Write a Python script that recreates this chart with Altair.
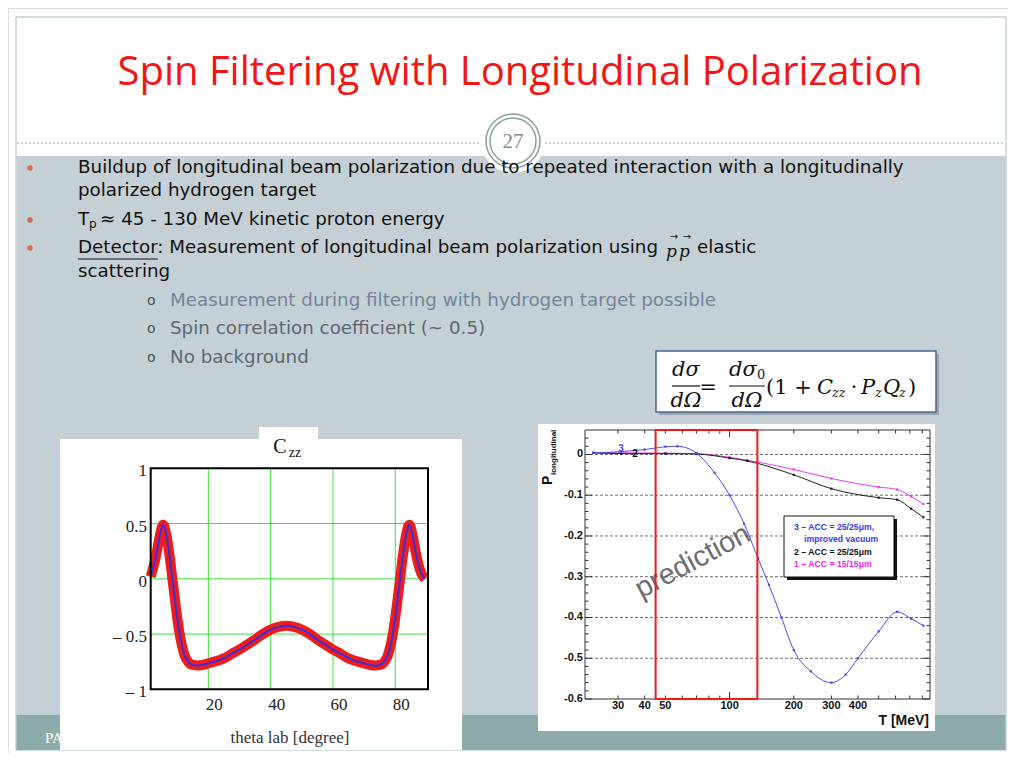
import altair as alt
import pandas as pd

OFF = 8  # page margin

# ---------------- slide texts ----------------
TITLE = "Spin Filtering with Longitudinal Polarization"
BULLET1 = ["Buildup of longitudinal beam polarization due to repeated interaction with a longitudinally",
           "polarized hydrogen target"]
BULLET2 = ["T", "p", "\u2248 45 - 130 MeV kinetic proton energy"]
BULLET3 = ["Detector", ": Measurement of longitudinal beam polarization using", "p", "\u2192", "elastic", "scattering"]
SUBBULLETS = ["Measurement during filtering with hydrogen target possible",
              "Spin correlation coefficient (~ 0.5)",
              "No background"]

# ---------------- left panel: C_zz vs theta lab ----------------
theta_lab = [1.5, 2.5, 3.5, 4.5, 5.5, 6.5, 7.5, 8.5, 9.5, 10.5, 11.5, 12.5, 13.5, 15, 16.5, 18, 20,
             22.5, 25, 27.5, 30, 32.5, 35, 37.5, 40, 42.5, 45, 47.5, 50, 52.5, 55, 57.5, 60, 62.5,
             65, 67.5, 70, 72, 73.5, 75, 76.5, 77.5, 78.5, 79.5, 80.5, 81.5, 82.5, 83.5, 84.5,
             85.5, 86.5, 87.5, 88.5, 89.5]
czz = [0.02, 0.12, 0.25, 0.40, 0.49, 0.40, 0.22, -0.01, -0.24, -0.45, -0.60, -0.70, -0.75, -0.78,
       -0.785, -0.78, -0.765, -0.745, -0.72, -0.68, -0.64, -0.595, -0.55, -0.50, -0.46, -0.435,
       -0.425, -0.435, -0.46, -0.50, -0.55, -0.595, -0.64, -0.68, -0.72, -0.745, -0.765, -0.78,
       -0.785, -0.78, -0.75, -0.70, -0.60, -0.45, -0.24, -0.01, 0.22, 0.40, 0.49, 0.40, 0.25,
       0.12, 0.04, 0.00]
left_xgrid = [20, 40, 60, 80]
left_ygrid = [0.5, 0, -0.5]
left_yticks = [1, 0.5, 0, -0.5, -1]
left_ylabels = ["1", "0.5", "0", "\u2013 0.5", "\u2013 1"]
left_xticks = [20, 40, 60, 80]
left_xlabels = ["20", "40", "60", "80"]

# ---------------- right panel: P_longitudinal vs T ----------------
t_acc3 = [23, 31, 40, 50, 57, 70, 85, 100, 117, 136, 153, 175, 200, 240, 300, 350, 400, 500, 610, 710, 810]
p_acc3 = [0.004, 0.007, 0.012, 0.019, 0.020, 0.003, -0.045, -0.10, -0.17, -0.255, -0.32, -0.40,
          -0.48, -0.532, -0.56, -0.54, -0.50, -0.434, -0.386, -0.403, -0.42]
t_acc2 = [23, 31, 50, 70, 100, 121, 200, 300, 500, 610, 710, 810]
p_acc2 = [0.004, 0.002, 0.002, 0.001, -0.009, -0.016, -0.05, -0.084, -0.106, -0.111, -0.133, -0.154]
t_acc1 = [23, 31, 50, 70, 100, 121, 200, 300, 500, 610, 710, 810]
p_acc1 = [0.004, 0.004, 0.003, 0.002, -0.007, -0.014, -0.037, -0.059, -0.080, -0.086, -0.103, -0.122]
window_t = [45, 135]          # T_p window (red box)
right_ygrid = [0, -0.1, -0.2, -0.3, -0.4, -0.5]
right_ymajor = [0.0, -0.1, -0.2, -0.3, -0.4, -0.5, -0.6]
right_yminor = [0.04, 0.02, -0.02, -0.04, -0.06, -0.08, -0.12, -0.14, -0.16, -0.18, -0.22, -0.24,
                -0.26, -0.28, -0.32, -0.34, -0.36, -0.38, -0.42, -0.44, -0.46, -0.48, -0.52,
                -0.54, -0.56, -0.58]
right_ylabels = ["0", "-0.1", "-0.2", "-0.3", "-0.4", "-0.5", "-0.6"]
right_xmajor = [100]
right_xminor = [30, 40, 50, 60, 70, 80, 90, 200, 300, 400, 500, 600, 700, 800]
right_xticks = [30, 40, 50, 100, 200, 300, 400]
right_xlabels = ["30", "40", "50", "100", "200", "300", "400"]
legend_lines = ["3 \u2013 ACC = 25/25\u03bcm,", "improved vacuum", "2 \u2013 ACC = 25/25\u03bcm", "1 \u2013 ACC = 15/15\u03bcm"]

# ---------------- helpers ----------------
one = pd.DataFrame({"k": [0]})


def rect(x1, y1, x2, y2, **kw):
    return alt.Chart(one).mark_rect(**kw).encode(
        x=alt.value(x1 - OFF), x2=alt.value(x2 - OFF),
        y=alt.value(y1 - OFF), y2=alt.value(y2 - OFF))


def rule(x1, y1, x2, y2, **kw):
    return alt.Chart(one).mark_rule(**kw).encode(
        x=alt.value(x1 - OFF), x2=alt.value(x2 - OFF),
        y=alt.value(y1 - OFF), y2=alt.value(y2 - OFF))


def txt(x, y, s, **kw):
    kw.setdefault("baseline", "middle")
    kw.setdefault("align", "left")
    return alt.Chart(one).mark_text(text=s, **kw).encode(
        x=alt.value(x - OFF), y=alt.value(y - OFF))


def dot(x, y, **kw):
    return alt.Chart(one).mark_point(**kw).encode(x=alt.value(x - OFF), y=alt.value(y - OFF))


TITLEFONT = "Open Sans"
BODY = "DejaVu Sans"
FS = 18.3
layers = []

# ---------------- slide background ----------------
layers += [
    rect(16, 17, 1006, 750, fill="white", stroke="#a7bbbf", strokeWidth=1),
    rect(16.5, 156, 1005.5, 715, fill="#c5d0d6"),
    rect(16.5, 715, 1005.5, 750, fill="#8eabab"),
    rule(17, 143, 1005, 143, color="#a5a5a5", strokeDash=[2, 2], strokeWidth=1),
    dot(513, 141, shape="circle", size=4096, filled=True, color="white", opacity=1),
    dot(513, 141, shape="circle", size=2916, filled=False, color="#8a9fa3", strokeWidth=1.5, opacity=1),
    dot(513, 141, shape="circle", size=2116, filled=False, color="#8a9fa3", strokeWidth=1.5, opacity=1),
    txt(513, 142, "27", font="Liberation Serif", fontSize=21, color="#7b9094", align="center"),
    txt(520, 73, TITLE, font=TITLEFONT, fontSize=40, color="#f31515", align="center"),
]

# bullets
for yy in (168, 220, 248):
    layers.append(dot(30, yy, shape="circle", size=30, filled=True, color="#d4694d", opacity=1))
layers += [
    txt(78, 168, BULLET1[0], font=BODY, fontSize=FS, color="#111111"),
    txt(78, 191, BULLET1[1], font=BODY, fontSize=FS, color="#111111"),
    txt(78, 220, BULLET2[0], font=BODY, fontSize=FS, color="#111111"),
    txt(89, 224, BULLET2[1], font=BODY, fontSize=12, color="#111111"),
    txt(100, 220, BULLET2[2], font=BODY, fontSize=FS, color="#111111"),
    txt(78, 248, BULLET3[0] + BULLET3[1], font=BODY, fontSize=FS, color="#111111"),
    rule(78, 259, 158, 259, color="#111111", strokeWidth=1),
    txt(666, 252, BULLET3[2], font="DejaVu Serif", fontSize=17, fontStyle="italic", color="#111111"),
    txt(679, 252, BULLET3[2], font="DejaVu Serif", fontSize=17, fontStyle="italic", color="#111111"),
    txt(674, 236.5, BULLET3[3], font="DejaVu Sans", fontSize=10, color="#111111", align="center"),
    txt(687, 236.5, BULLET3[3], font="DejaVu Sans", fontSize=10, color="#111111", align="center"),
    txt(697, 248, BULLET3[4], font=BODY, fontSize=FS, color="#111111"),
    txt(78, 272, BULLET3[5], font=BODY, fontSize=FS, color="#111111"),
]
sub_y = [301, 329, 358]
sub_col = ["#74849a", "#5d6873", "#5d6873"]
for s, yy, cc in zip(SUBBULLETS, sub_y, sub_col):
    layers.append(txt(147, yy, "o", font=BODY, fontSize=14, color="#4a4f55"))
    layers.append(txt(170, yy, s, font=BODY, fontSize=FS, color=cc))

# ---------------- formula box ----------------
SER = "DejaVu Serif"
FF = 21
layers += [
    rect(659, 354, 939, 415, fill="#7d8b93", opacity=0.6),
    rect(656, 351, 936, 412, fill="white", stroke="#45688a", strokeWidth=1.5),
    txt(686, 370, "d\u03c3", font=SER, fontSize=FF, fontStyle="italic", align="center", color="#111"),
    rule(672, 386, 700, 386, color="#111", strokeWidth=1.2),
    txt(686, 401, "d\u03a9", font=SER, fontSize=FF, fontStyle="italic", align="center", color="#111"),
    txt(708, 388, "=", font=SER, fontSize=FF, align="center", color="#111"),
    txt(743, 370, "d\u03c3", font=SER, fontSize=FF, fontStyle="italic", align="center", color="#111"),
    txt(757, 375, "0", font=SER, fontSize=13, align="left", color="#111"),
    rule(729, 386, 765, 386, color="#111", strokeWidth=1.2),
    txt(747, 401, "d\u03a9", font=SER, fontSize=FF, fontStyle="italic", align="center", color="#111"),
    txt(766, 388, "(1 +", font=SER, fontSize=FF, color="#111"),
    txt(817, 388, "C", font=SER, fontSize=FF, fontStyle="italic", color="#111"),
    txt(832, 393, "zz", font=SER, fontSize=13, fontStyle="italic", color="#111"),
    txt(854, 388, "\u00b7", font=SER, fontSize=FF, color="#111", align="center"),
    txt(861, 388, "P", font=SER, fontSize=FF, fontStyle="italic", color="#111"),
    txt(875, 393, "z", font=SER, fontSize=13, fontStyle="italic", color="#111"),
    txt(883, 388, "Q", font=SER, fontSize=FF, fontStyle="italic", color="#111"),
    txt(899, 393, "z", font=SER, fontSize=13, fontStyle="italic", color="#111"),
    txt(908, 388, ")", font=SER, fontSize=FF, color="#111"),
]

# ---------------- panels ----------------
TS = "Liberation Serif"
layers += [
    txt(45, 738, "PAX", font=TS, fontSize=15, color="white"),
    rect(60, 439, 462, 750, fill="white"),
    rect(259, 427, 318, 440, fill="white"),
    rect(538, 424, 935, 731, fill="white"),
]

# ---------------- left chart ----------------
LX = alt.Scale(domain=[1.5, 90.5], range=[150.7 - OFF, 428 - OFF], nice=False, zero=False)
LY = alt.Scale(domain=[-1, 1], range=[689.3 - OFF, 468.3 - OFF], nice=False, zero=False)
ldf = pd.DataFrame({"theta": theta_lab, "czz": czz})

layers += [
    alt.Chart(pd.DataFrame({"v": left_xgrid})).mark_rule(color="#3ee03e", strokeWidth=1).encode(
        x=alt.X("v:Q", scale=LX, axis=None), y=alt.value(468.3 - OFF), y2=alt.value(689.3 - OFF)),
    alt.Chart(pd.DataFrame({"v": left_ygrid})).mark_rule(color="#3ee03e", strokeWidth=1).encode(
        y=alt.Y("v:Q", scale=LY, axis=None), x=alt.value(150.7 - OFF), x2=alt.value(428 - OFF)),
    alt.Chart(ldf).mark_line(color="#ee1c1c", strokeWidth=10, interpolate="monotone").encode(
        x=alt.X("theta:Q", scale=LX, axis=None), y=alt.Y("czz:Q", scale=LY, axis=None)),
    alt.Chart(ldf).mark_line(color="#3a2fd8", strokeWidth=2, interpolate="monotone").encode(
        x=alt.X("theta:Q", scale=LX, axis=None), y=alt.Y("czz:Q", scale=LY, axis=None)),
    rect(150.7, 468.3, 428, 689.3, fillOpacity=0, stroke="black", strokeWidth=2),
    alt.Chart(pd.DataFrame({"v": left_yticks, "lab": left_ylabels})).mark_text(
        align="right", baseline="middle", dy=3, font=TS, fontSize=17, color="#222").encode(
        y=alt.Y("v:Q", scale=LY, axis=None), x=alt.value(147 - OFF), text=alt.Text("lab:N")),
    alt.Chart(pd.DataFrame({"v": left_xticks, "lab": left_xlabels})).mark_text(
        align="center", baseline="middle", dx=6, font=TS, fontSize=17, color="#222").encode(
        x=alt.X("v:Q", scale=LX, axis=None), y=alt.value(705 - OFF), text=alt.Text("lab:N")),
    txt(290, 738, "theta lab [degree]", font=TS, fontSize=17, color="#333", align="center"),
    txt(280, 447, "C", font=TS, fontSize=20, color="#111", align="center"),
    txt(295, 453, "zz", font=TS, fontSize=14, color="#111", align="center"),
]

# ---------------- right chart ----------------
RX = alt.Scale(type="log", domain=[21, 870], range=[585 - OFF, 930 - OFF], nice=False)
RY = alt.Scale(domain=[-0.6, 0.06], range=[699 - OFF, 430 - OFF], nice=False, zero=False)
HS = "Liberation Sans"


def series(ts, ps, col):
    d = pd.DataFrame({"T": ts, "P": ps})
    enc = dict(x=alt.X("T:Q", scale=RX, axis=None), y=alt.Y("P:Q", scale=RY, axis=None))
    return [alt.Chart(d).mark_line(color=col, strokeWidth=1, interpolate="monotone").encode(**enc),
            alt.Chart(d).mark_point(shape="square", size=5, filled=True, color=col, opacity=1).encode(**enc)]


layers += [
    alt.Chart(pd.DataFrame({"v": right_ygrid})).mark_rule(color="#444", strokeWidth=0.8, strokeDash=[3, 2]).encode(
        y=alt.Y("v:Q", scale=RY, axis=None), x=alt.value(585 - OFF), x2=alt.value(930 - OFF)),
]
layers += series(t_acc1, p_acc1, "#e63ce6")
layers += series(t_acc2, p_acc2, "#222222")
layers += series(t_acc3, p_acc3, "#4b4be6")

# frame + ticks
layers.append(rect(585, 430, 930, 699, fillOpacity=0, stroke="#333", strokeWidth=1))
for vals, ln in ((right_ymajor, 7), (right_yminor, 3.5)):
    dfv = pd.DataFrame({"v": vals})
    layers.append(alt.Chart(dfv).mark_rule(color="#333", strokeWidth=1).encode(
        y=alt.Y("v:Q", scale=RY, axis=None), x=alt.value(585 - OFF), x2=alt.value(585 + ln - OFF)))
    layers.append(alt.Chart(dfv).mark_rule(color="#333", strokeWidth=1).encode(
        y=alt.Y("v:Q", scale=RY, axis=None), x=alt.value(930 - OFF), x2=alt.value(930 - ln - OFF)))
for vals, ln in ((right_xmajor, 7), (right_xminor, 3.5)):
    dfv = pd.DataFrame({"v": vals})
    layers.append(alt.Chart(dfv).mark_rule(color="#333", strokeWidth=1).encode(
        x=alt.X("v:Q", scale=RX, axis=None), y=alt.value(699 - OFF), y2=alt.value(699 - ln - OFF)))
    layers.append(alt.Chart(dfv).mark_rule(color="#333", strokeWidth=1).encode(
        x=alt.X("v:Q", scale=RX, axis=None), y=alt.value(430 - OFF), y2=alt.value(430 + ln - OFF)))

layers += [
    alt.Chart(pd.DataFrame({"v": right_ymajor, "lab": right_ylabels})).mark_text(
        align="right", baseline="middle", font=HS, fontWeight="bold", fontSize=11, color="#111").encode(
        y=alt.Y("v:Q", scale=RY, axis=None), x=alt.value(583 - OFF), text=alt.Text("lab:N")),
    alt.Chart(pd.DataFrame({"v": right_xticks, "lab": right_xlabels})).mark_text(
        align="center", baseline="middle", font=HS, fontWeight="bold", fontSize=11, color="#111").encode(
        x=alt.X("v:Q", scale=RX, axis=None), y=alt.value(706 - OFF), text=alt.Text("lab:N")),
    txt(929, 721, "T [MeV]", font=HS, fontWeight="bold", fontSize=14, color="#111", align="right"),
    txt(548, 485, "P", font=HS, fontWeight="bold", fontSize=14, color="#111", angle=270),
    txt(553.5, 475, "longitudinal", font=HS, fontWeight="bold", fontSize=8, color="#111", angle=270),
    # curve numbers
    alt.Chart(pd.DataFrame({"T": [31, 36], "P": [0.013, 0.002], "lab": ["3", "2"], "c": ["#4b4be6", "#111"]})).mark_text(
        font=HS, fontWeight="bold", fontSize=10, baseline="middle", align="center").encode(
        x=alt.X("T:Q", scale=RX, axis=None), y=alt.Y("P:Q", scale=RY, axis=None),
        text=alt.Text("lab:N"), color=alt.Color("c:N", scale=None, legend=None)),
    # "prediction"
    alt.Chart(pd.DataFrame({"T": [67], "P": [-0.262], "lab": ["prediction"]})).mark_text(
        font=HS, fontSize=29, color="#555", opacity=0.85, angle=332, align="center", baseline="middle").encode(
        x=alt.X("T:Q", scale=RX, axis=None), y=alt.Y("P:Q", scale=RY, axis=None), text=alt.Text("lab:N")),
    # T window box
    alt.Chart(pd.DataFrame({"a": [window_t[0]], "b": [window_t[1]], "lo": [-0.6], "hi": [0.06]})).mark_rect(
        fillOpacity=0, stroke="#ee1a1a", strokeWidth=2).encode(
        x=alt.X("a:Q", scale=RX, axis=None), x2="b:Q",
        y=alt.Y("lo:Q", scale=RY, axis=None), y2="hi:Q"),
    # legend
    rect(787, 519, 897, 580, fill="#111"),
    rect(784, 516, 894, 577, fill="white", stroke="#111", strokeWidth=1),
    txt(794, 527, legend_lines[0], font=HS, fontWeight="bold", fontSize=8.7, color="#3a3adf"),
    txt(804, 539, legend_lines[1], font=HS, fontWeight="bold", fontSize=8.7, color="#3a3adf"),
    txt(794, 552, legend_lines[2], font=HS, fontWeight="bold", fontSize=8.7, color="#111"),
    txt(794, 564, legend_lines[3], font=HS, fontWeight="bold", fontSize=8.7, color="#ee22ee"),
]

chart = alt.layer(*layers).resolve_scale(x="independent", y="independent", color="independent").properties(
    width=1000, height=745, padding=0, autosize=alt.AutoSizeParams(type="none")
).configure_view(stroke=None).configure(background="white")

chart.save("out.html", embed_options={"renderer": "svg", "actions": False})
